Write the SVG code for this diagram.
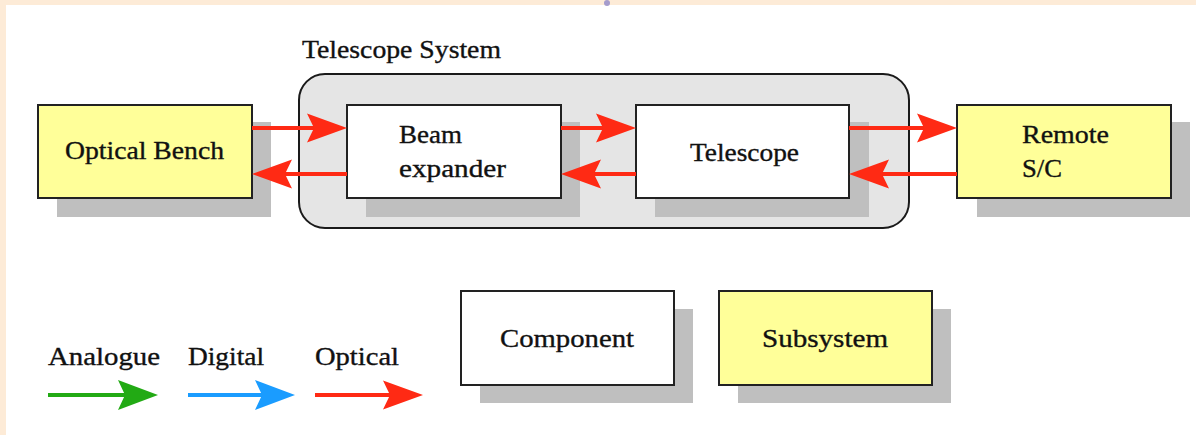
<svg xmlns="http://www.w3.org/2000/svg" width="1196" height="435" viewBox="0 0 1196 435">
<style>
  .txt { font-family: "Liberation Serif", "DejaVu Serif", serif; font-size: 25px; fill: #111111; stroke: #111111; stroke-width: 0.35px; }
  .shadow { fill: #bfbfbf; }
  .comp { fill: #ffffff; stroke: #222222; stroke-width: 2; }
  .sub { fill: #ffff99; stroke: #222222; stroke-width: 2; }
  .opt { stroke: #ff2a14; stroke-width: 4; fill: none; }
  .ana { stroke: #22aa14; stroke-width: 4; fill: none; }
  .dig { stroke: #1a9cff; stroke-width: 4; fill: none; }
</style>
<defs>
  <marker id="headRed" markerUnits="userSpaceOnUse" viewBox="0 0 40 30" markerWidth="40" markerHeight="30" refX="10" refY="15" orient="auto">
    <path d="M40,15 L0,0.5 L7,15 L0,29.5 Z" fill="#ff2a14"/>
  </marker>
  <marker id="headGreen" markerUnits="userSpaceOnUse" viewBox="0 0 40 30" markerWidth="40" markerHeight="30" refX="10" refY="15" orient="auto">
    <path d="M40,15 L0,0 L7,15 L0,30 Z" fill="#22aa14"/>
  </marker>
  <marker id="headBlue" markerUnits="userSpaceOnUse" viewBox="0 0 40 30" markerWidth="40" markerHeight="30" refX="10" refY="15" orient="auto">
    <path d="M40,15 L0,0 L7,15 L0,30 Z" fill="#1a9cff"/>
  </marker>
</defs>

<rect x="0" y="0" width="1196" height="435" fill="#ffffff"/>
<rect x="0" y="0" width="1196" height="5" fill="#fdebd7"/>
<rect x="0" y="0" width="6" height="435" fill="#fdebd7"/>
<circle cx="607" cy="3" r="3" fill="#a59ccc"/>

<g id="telescope-system">
  <rect x="299" y="74" width="610" height="154" rx="26" ry="26" fill="#e5e5e5" stroke="#1a1a1a" stroke-width="2"/>
  <text class="txt" x="302" y="58" textLength="199" lengthAdjust="spacingAndGlyphs">Telescope System</text>
</g>

<g id="optical-bench">
  <rect class="shadow" x="57" y="122" width="214" height="95"/>
  <rect class="sub" x="38" y="105" width="214" height="93"/>
  <text class="txt" x="65" y="159" textLength="159" lengthAdjust="spacingAndGlyphs">Optical Bench</text>
</g>

<g id="beam-expander">
  <rect class="shadow" x="366" y="122" width="214" height="95"/>
  <rect class="comp" x="347" y="105" width="214" height="93"/>
  <text class="txt" x="399" y="143" textLength="63" lengthAdjust="spacingAndGlyphs">Beam</text>
  <text class="txt" x="399" y="177" textLength="107" lengthAdjust="spacingAndGlyphs">expander</text>
</g>

<g id="telescope">
  <rect class="shadow" x="655" y="122" width="214" height="95"/>
  <rect class="comp" x="636" y="105" width="213" height="93"/>
  <text class="txt" x="690" y="161" textLength="109" lengthAdjust="spacingAndGlyphs">Telescope</text>
</g>

<g id="remote-sc">
  <rect class="shadow" x="977" y="122" width="213" height="95"/>
  <rect class="sub" x="957" y="105" width="214" height="93"/>
  <text class="txt" x="1022" y="143" textLength="87" lengthAdjust="spacingAndGlyphs">Remote</text>
  <text class="txt" x="1022" y="177" textLength="40" lengthAdjust="spacingAndGlyphs">S/C</text>
</g>

<g id="connectors">
  <line class="opt" x1="252" y1="128" x2="317" y2="128" marker-end="url(#headRed)"/>
  <line class="opt" x1="561" y1="128" x2="606" y2="128" marker-end="url(#headRed)"/>
  <line class="opt" x1="849" y1="128" x2="927" y2="128" marker-end="url(#headRed)"/>
  <line class="opt" x1="347" y1="174" x2="282" y2="174" marker-end="url(#headRed)"/>
  <line class="opt" x1="636" y1="174" x2="591" y2="174" marker-end="url(#headRed)"/>
  <line class="opt" x1="957" y1="174" x2="879" y2="174" marker-end="url(#headRed)"/>
</g>

<g id="legend-arrows">
  <text class="txt" x="48" y="365" textLength="112" lengthAdjust="spacingAndGlyphs">Analogue</text>
  <text class="txt" x="188" y="365" textLength="76" lengthAdjust="spacingAndGlyphs">Digital</text>
  <text class="txt" x="315" y="365" textLength="84" lengthAdjust="spacingAndGlyphs">Optical</text>
  <line class="ana" x1="48" y1="395" x2="128" y2="395" marker-end="url(#headGreen)"/>
  <line class="dig" x1="188" y1="395" x2="265" y2="395" marker-end="url(#headBlue)"/>
  <line class="opt" x1="315" y1="395" x2="393" y2="395" marker-end="url(#headRed)"/>
</g>

<g id="legend-component">
  <rect class="shadow" x="480" y="309" width="213" height="94"/>
  <rect class="comp" x="461" y="291" width="213" height="94"/>
  <text class="txt" x="500" y="347" textLength="134" lengthAdjust="spacingAndGlyphs">Component</text>
</g>

<g id="legend-subsystem">
  <rect class="shadow" x="738" y="309" width="213" height="94"/>
  <rect class="sub" x="719" y="291" width="213" height="94"/>
  <text class="txt" x="762" y="347" textLength="126" lengthAdjust="spacingAndGlyphs">Subsystem</text>
</g>
</svg>
